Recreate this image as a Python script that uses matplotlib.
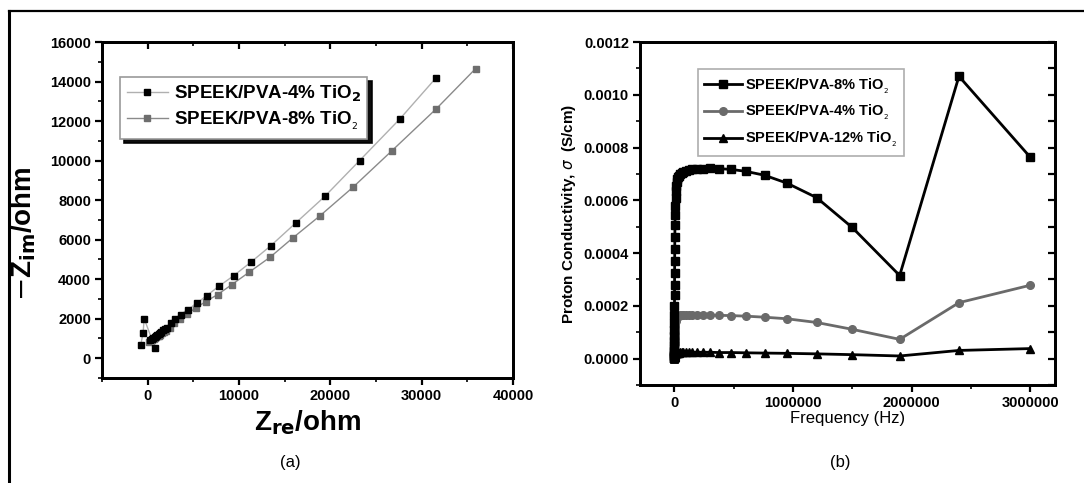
import matplotlib
matplotlib.use("Agg")
import matplotlib.pyplot as plt
from matplotlib.lines import Line2D
from matplotlib.ticker import MultipleLocator, FixedLocator, FuncFormatter, NullFormatter

plt.rcParams['font.family'] = ['Liberation Sans', 'DejaVu Sans']

# ---------------- Panel (a): Nyquist data ----------------
zre_4 = [-750, -500, -380, 830, 300, 450, 600, 750, 900, 1050, 1200, 1350, 1500, 1700,
         1900, 2100, 2500, 3000, 3650, 4400, 5350, 6480, 7760, 9400, 11300, 13500,
         16200, 19400, 23200, 27600, 31600]
zim_4 = [680, 1300, 2000, 500, 900, 960, 1020, 1080, 1130, 1190, 1240, 1300, 1350, 1420,
         1480, 1550, 1800, 1990, 2210, 2450, 2780, 3170, 3630, 4170, 4860, 5700,
         6840, 8190, 10000, 12100, 14200]

zre_8 = [200, 350, 500, 650, 800, 950, 1100, 1250, 1400, 1600, 1800, 2050, 2400, 2860,
         3540, 4330, 5270, 6370, 7650, 9230, 11100, 13400, 15900, 18900, 22500,
         26700, 31600, 35900]
zim_8 = [800, 860, 910, 960, 1010, 1060, 1110, 1150, 1200, 1260, 1320, 1400, 1520, 1770,
         1990, 2240, 2550, 2870, 3220, 3730, 4350, 5110, 6090, 7220, 8660,
         10480, 12620, 14650]

# ---------------- Panel (b): conductivity vs frequency ----------------
freq = [3000000, 2400000, 1900000, 1500000, 1200000, 950000, 760000, 600000, 480000,
        380000, 300000, 240000, 190000, 150000, 120000, 95000, 76000, 60000, 48000,
        38000, 30000, 24000, 19000, 15000, 12000, 9500, 7600, 6000, 4800, 3800, 3000,
        2400, 1900, 1500, 1200, 950, 760, 600, 480, 380, 300, 240, 190, 150, 120, 95,
        76, 60, 48, 38]
sig_8 = [0.000764, 0.00107, 0.000315, 0.000497, 0.000610, 0.000665, 0.000695, 0.000710,
         0.000717, 0.000720, 0.000721, 0.000720, 0.000719, 0.000717, 0.000715, 0.000712,
         0.000709, 0.000705, 0.000700, 0.000694, 0.000688, 0.000680, 0.000670, 0.000655,
         0.000635, 0.000610, 0.000580, 0.000545, 0.000505, 0.000460, 0.000415, 0.000370,
         0.000325, 0.000280, 0.000240, 0.000200, 0.000165, 0.000135, 0.000108, 0.000085,
         0.000066, 0.000050, 0.000038, 0.000028, 0.000020, 0.000014, 0.000010, 0.000007,
         0.000005, 0.000004]
sig_4 = [0.000278, 0.000212, 0.000073, 0.000111, 0.000137, 0.000151, 0.000157, 0.000161,
         0.000163, 0.000164, 0.000165, 0.000165, 0.000165, 0.000165, 0.000165, 0.000165,
         0.000165, 0.000164, 0.000164, 0.000163, 0.000162, 0.000160, 0.000158, 0.000155,
         0.000150, 0.000144, 0.000136, 0.000127, 0.000117, 0.000106, 0.000095, 0.000084,
         0.000073, 0.000063, 0.000054, 0.000046, 0.000039, 0.000033, 0.000028, 0.000023,
         0.000019, 0.000016, 0.000013, 0.000011, 0.000009, 0.000007, 0.000006, 0.000005,
         0.000004, 0.000003]
sig_12 = [0.000038, 0.000031, 0.000010, 0.000015, 0.000018, 0.000020, 0.000021, 0.000022,
          0.000023, 0.000023, 0.000024, 0.000024, 0.000024, 0.000024, 0.000024, 0.000024,
          0.000024, 0.000024, 0.000024, 0.000023, 0.000023, 0.000023, 0.000022, 0.000022,
          0.000021, 0.000020, 0.000019, 0.000018, 0.000017, 0.000015, 0.000014, 0.000012,
          0.000011, 0.000009, 0.000008, 0.000007, 0.000006, 0.000005, 0.000004, 0.000003,
          0.000003, 0.000002, 0.000002, 0.000002, 0.000001, 0.000001, 0.000001, 0.000001,
          0.000001, 0.000001]

W, H = 1084, 483
fig = plt.figure(figsize=(W / 100, H / 100), dpi=100)
fig.patch.set_facecolor('white')

# outer frame lines (top and left)
fig.add_artist(Line2D([9 / W, 1.0], [1 - 11 / H, 1 - 11 / H], color='black', lw=1.6,
                      transform=fig.transFigure))
fig.add_artist(Line2D([9 / W, 9 / W], [0, 1 - 11 / H], color='black', lw=2.2,
                      transform=fig.transFigure))


def style_axes(ax):
    for s in ax.spines.values():
        s.set_linewidth(2.0)
    ax.tick_params(axis='both', which='major', length=5, width=1.6,
                   labelsize=10.5, pad=3, direction='out', top=False, right=False)
    ax.tick_params(axis='both', which='minor', length=3, width=1.2,
                   direction='out', top=False, right=False)
    for lab in ax.get_xticklabels() + ax.get_yticklabels():
        lab.set_fontweight('bold')


# ---------------- Panel (a) ----------------
axa = fig.add_axes([102 / W, 1 - 378 / H, (513 - 102) / W, (378 - 42) / H])
axa.plot(zre_4, zim_4, color='#b0b0b0', lw=1.0, marker='s', ms=5,
         mfc='black', mec='black', label='SPEEK/PVA-4% TiO$_\\mathbf{2}$', zorder=3)
axa.plot(zre_8, zim_8, color='#8a8a8a', lw=1.0, marker='s', ms=5,
         mfc='#6e6e6e', mec='#6e6e6e', label='SPEEK/PVA-8% TiO$_{_2}$', zorder=2)
axa.set_xlim(-5000, 40000)
axa.set_ylim(-1000, 16000)
axa.xaxis.set_major_locator(FixedLocator([0, 10000, 20000, 30000, 40000]))
axa.xaxis.set_minor_locator(MultipleLocator(5000))
axa.yaxis.set_major_locator(MultipleLocator(2000))
axa.yaxis.set_minor_locator(MultipleLocator(1000))
style_axes(axa)
# inward ticks on the top spine
axa_top = axa.twiny()
axa_top.set_xlim(axa.get_xlim())
axa_top.xaxis.set_major_locator(FixedLocator([0, 10000, 20000, 30000, 40000]))
axa_top.xaxis.set_minor_locator(MultipleLocator(5000))
axa_top.xaxis.set_major_formatter(NullFormatter())
axa_top.tick_params(axis='x', which='major', direction='in', length=5, width=1.6)
axa_top.tick_params(axis='x', which='minor', direction='in', length=3, width=1.2)
for s in axa_top.spines.values():
    s.set_linewidth(2.0)

axa.set_xlabel('Z$_{\\mathbf{re}}$/ohm', fontsize=20, fontweight='bold', labelpad=4)
axa.set_ylabel('$-$Z$_{\\mathbf{im}}$/ohm', fontsize=20, fontweight='bold')
axa.yaxis.set_label_coords(-0.155, 0.43)
leg_a = axa.legend(loc='upper left', bbox_to_anchor=(0.044, 0.896), borderaxespad=0,
                   frameon=True, fancybox=False,
                   shadow={'color': 'black', 'alpha': 0.95, 'ox': 3, 'oy': -3},
                   edgecolor='#9a9a9a', borderpad=0.35,
                   handlelength=2.2, handletextpad=0.3, labelspacing=0.3,
                   prop={'weight': 'bold', 'size': 13.5})
leg_a.get_frame().set_linewidth(1.2)
leg_a.set_zorder(10)

# ---------------- Panel (b) ----------------
axb = fig.add_axes([640 / W, 1 - 385 / H, (1055 - 640) / W, (385 - 42) / H])
axb.plot(freq, sig_8, color='black', lw=2.0, marker='s', ms=5.5, mfc='black',
         mec='black', label='SPEEK/PVA-8% TiO$_{_2}$', zorder=4)
axb.plot(freq, sig_4, color='#6a6a6a', lw=2.0, marker='o', ms=5.5, mfc='#6a6a6a',
         mec='#6a6a6a', label='SPEEK/PVA-4% TiO$_{_2}$', zorder=3)
axb.plot(freq, sig_12, color='black', lw=2.0, marker='^', ms=5.5, mfc='black',
         mec='black', label='SPEEK/PVA-12% TiO$_{_2}$', zorder=2)
axb.set_xlim(-290000, 3210000)
axb.set_ylim(-0.0001, 0.0012)
axb.xaxis.set_major_locator(FixedLocator([0, 1000000, 2000000, 3000000]))
axb.xaxis.set_minor_locator(MultipleLocator(500000))
axb.yaxis.set_major_locator(MultipleLocator(0.0002))
axb.yaxis.set_minor_locator(MultipleLocator(0.0001))
axb.yaxis.set_major_formatter(FuncFormatter(lambda v, p: f'{v:.4f}'))
axb.xaxis.set_major_formatter(FuncFormatter(lambda v, p: f'{int(round(v))}'))
style_axes(axb)
# inward ticks on the right spine
axb_r = axb.twinx()
axb_r.set_ylim(axb.get_ylim())
axb_r.yaxis.set_major_locator(MultipleLocator(0.0001))
axb_r.yaxis.set_major_formatter(NullFormatter())
axb_r.tick_params(axis='y', which='major', direction='in', length=5, width=1.6)
for s in axb_r.spines.values():
    s.set_linewidth(2.0)

axb.set_xlabel('Frequency (Hz)', fontsize=12, labelpad=1)
axb.set_ylabel('Proton Conductivity, $\\sigma$  (S/cm)', fontsize=11, fontweight='bold',
               labelpad=4)
leg_b = axb.legend(loc='upper left', bbox_to_anchor=(0.139, 0.92), borderaxespad=0,
                   frameon=True, fancybox=False, edgecolor='#9a9a9a', borderpad=0.45,
                   handlelength=2.6, handletextpad=0.2, labelspacing=0.5,
                   prop={'weight': 'bold', 'size': 10.5})
leg_b.get_frame().set_linewidth(1.2)

fig.text(290 / W, 1 - 463 / H, '(a)', ha='center', va='center', fontsize=12)
fig.text(840 / W, 1 - 463 / H, '(b)', ha='center', va='center', fontsize=12)

fig.savefig('out.png', dpi=100, facecolor='white')
